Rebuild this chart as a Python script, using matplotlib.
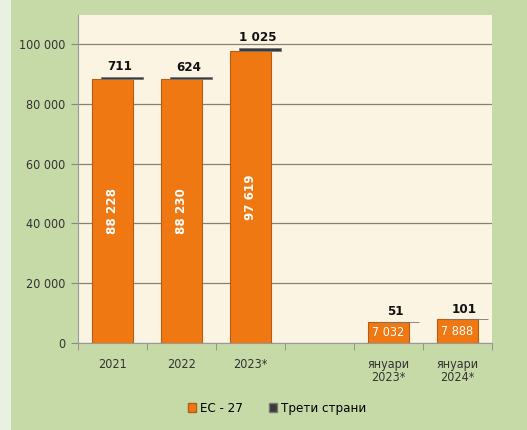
import numpy as np
import matplotlib.pyplot as plt
from matplotlib.patches import Rectangle
from matplotlib import font_manager

names = sorted({(f.name, f.stretch) for f in font_manager.fontManager.ttflist})
print([n for n in names if 'Narrow' in n[0] or 'ondensed' in str(n[1]) or n[1] != 'normal'])

plt.rcParams['font.family'] = ['DejaVu Sans']
plt.rcParams['font.stretch'] = 'condensed'

categories = ['2021', '2022', '2023*', '', 'януари\n2023*', 'януари\n2024*']
eu = np.array([88228, 88230, 97619, 0, 7032, 7888])
third = np.array([711, 624, 1025, 0, 51, 101])
eu_labels = ['88 228', '88 230', '97 619', '', '7 032', '7 888']
third_labels = ['711', '624', '1 025', '', '51', '101']

fig = plt.figure(figsize=(5.27, 4.3), dpi=100)
fig.patch.set_facecolor('#c6daa8')
fig.patches.append(Rectangle((0, 0), 11 / 527, 1, transform=fig.transFigure,
                             facecolor='#e9f1e3', edgecolor='none', zorder=0))

ax = fig.add_axes([78 / 527, 87 / 430, 414 / 527, 328 / 430])
ax.set_facecolor('#fcf4e3')

x = np.arange(len(categories))
has = eu > 0
ax.bar(x[has], eu[has], width=0.6, color='#f07812', edgecolor='#b85c14', linewidth=0.8, zorder=3)
ax.bar(x[has] + 0.14, third[has], bottom=eu[has], width=0.6, color='#3a3a3a',
       edgecolor='#777777', linewidth=0.6, zorder=3)

for i in np.where(has)[0]:
    ax.text(x[i] + 0.1, eu[i] + third[i] + 1200, third_labels[i], ha='center', va='bottom',
            fontsize=9.5, fontweight='bold', color='#111111', zorder=4)
    if eu[i] > 50000:
        ax.text(x[i], eu[i] / 2, eu_labels[i], rotation=90, ha='center', va='center',
                fontsize=9.5, fontweight='bold', color='white', zorder=4)
    else:
        ax.text(x[i], eu[i] / 2, eu_labels[i], ha='center', va='center',
                fontsize=9, color='white', zorder=4)

ax.set_ylim(0, 109700)
ax.set_xlim(-0.5, 5.5)
ax.set_yticks(np.arange(0, 100001, 20000))
ax.set_yticklabels([f'{v:,}'.replace(',', ' ') for v in range(0, 100001, 20000)])
ax.grid(axis='y', color='#8a8070', linewidth=0.9, zorder=1)

ax.set_xticks(x)
ax.set_xticklabels(categories, linespacing=1.0)
ax.set_xticks(np.arange(-0.5, 6, 1), minor=True)
ax.tick_params(axis='x', which='major', length=0, pad=11, labelsize=9, labelcolor='#333333')
ax.tick_params(axis='x', which='minor', length=5, color='#888888', direction='out')
ax.tick_params(axis='y', length=5, color='#888888', labelsize=9, labelcolor='#333333', pad=4)

for s in ['top', 'right']:
    ax.spines[s].set_visible(False)
for s in ['left', 'bottom']:
    ax.spines[s].set_color('#999999')

h1 = Rectangle((0, 0), 1, 1, facecolor='#f07812', edgecolor='#b85c14')
h2 = Rectangle((0, 0), 1, 1, facecolor='#3a3a3a', edgecolor='#777777')
fig.legend([h1, h2], ['ЕС - 27', 'Трети страни'], loc='center', bbox_to_anchor=(0.526, 0.05),
           ncol=2, frameon=False, fontsize=9.5, handlelength=0.6, handleheight=0.6,
           handletextpad=0.3, columnspacing=2.0)

fig.savefig('out.png', dpi=100, facecolor=fig.get_facecolor())
